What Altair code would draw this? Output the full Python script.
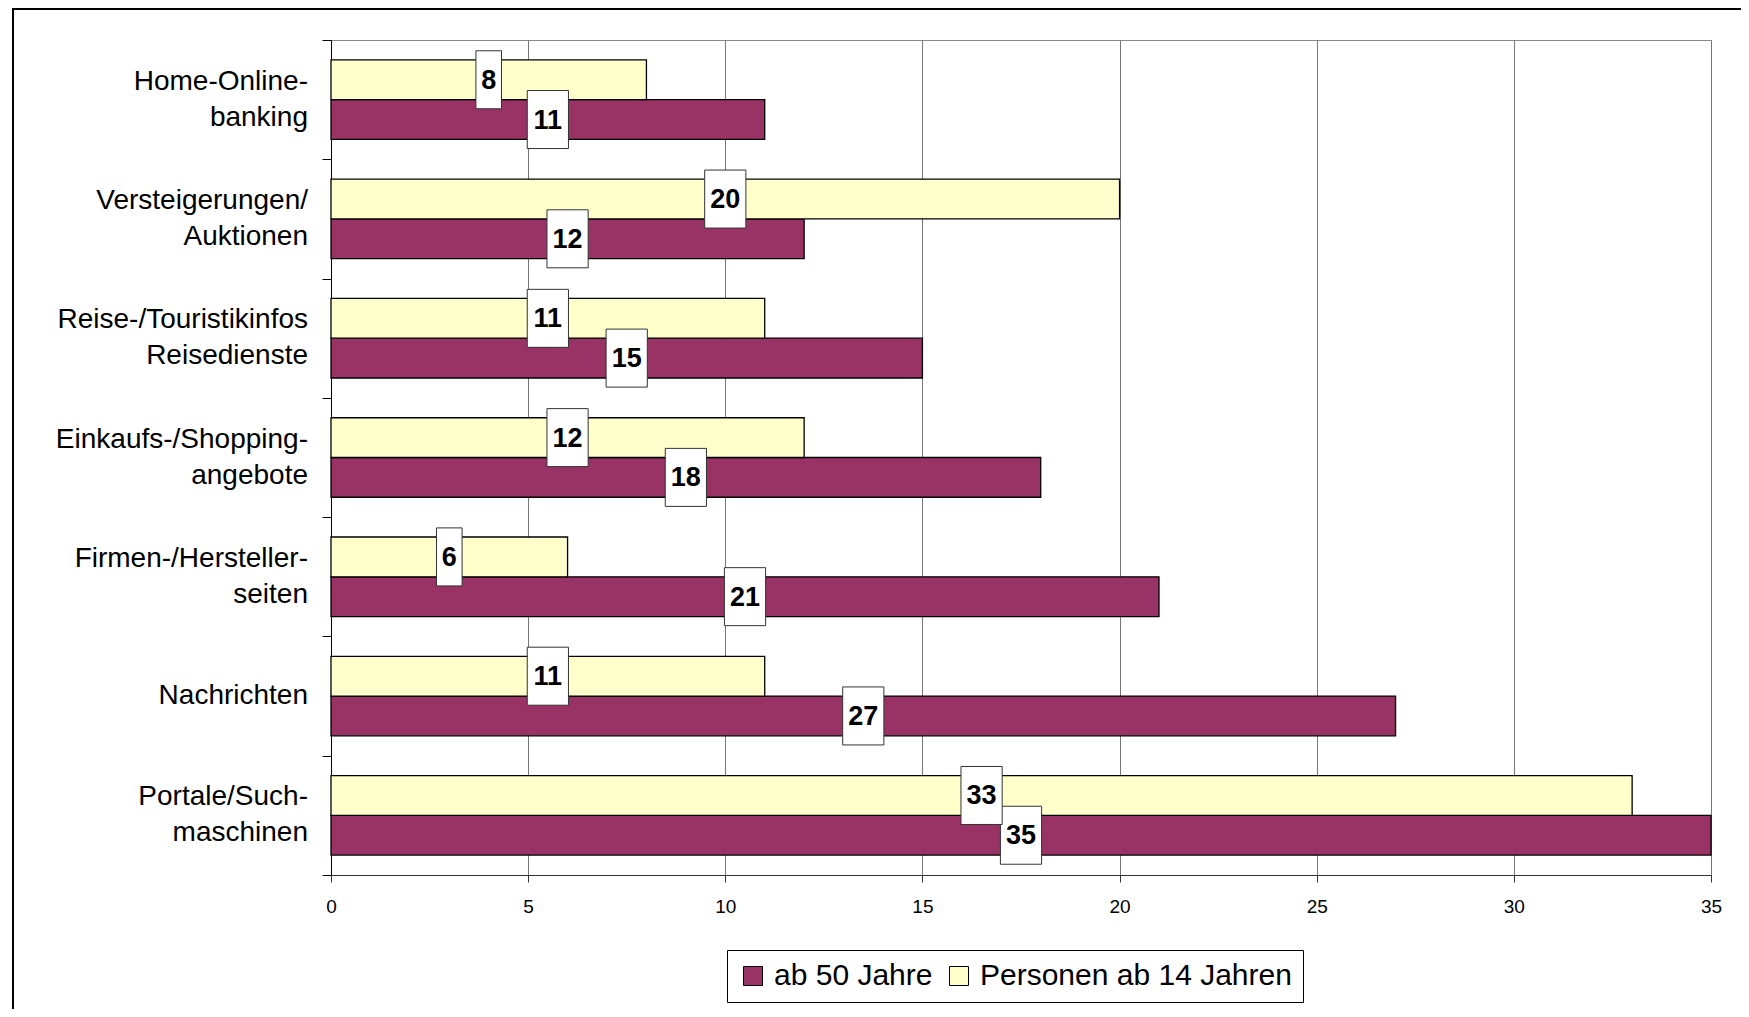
import altair as alt
import pandas as pd

categories = [
    "Home-Online-\nbanking",
    "Versteigerungen/\nAuktionen",
    "Reise-/Touristikinfos\nReisedienste",
    "Einkaufs-/Shopping-\nangebote",
    "Firmen-/Hersteller-\nseiten",
    "Nachrichten",
    "Portale/Such-\nmaschinen",
]
series_names = ["ab 50 Jahre", "Personen ab 14 Jahren"]
ab_50_jahre = [11, 12, 15, 18, 21, 27, 35]
ab_14_jahren = [8, 20, 11, 12, 6, 11, 33]
x_ticks = [0, 5, 10, 15, 20, 25, 30, 35]
colors = ["#993366", "#FFFFCC"]

rows = []
for c, a, p in zip(categories, ab_50_jahre, ab_14_jahren):
    rows.append({"cat": c, "series": series_names[0], "v": a})
    rows.append({"cat": c, "series": series_names[1], "v": p})
df = pd.DataFrame(rows)
cat_df = pd.DataFrame({"cat": categories})

W, H = 1380, 835
FONT = "Liberation Sans"
PX_PER_UNIT = W / 35.0


def y_enc():
    return alt.Y(
        "cat:N",
        sort=categories,
        title=None,
        scale=alt.Scale(paddingInner=0, paddingOuter=0),
        axis=alt.Axis(
            labels=False,
            tickSize=9,
            tickColor="black",
            tickBand="extent",
            domainColor="black",
            grid=False,
        ),
    )


def yoff_enc():
    return alt.YOffset(
        "series:N",
        sort=[series_names[1], series_names[0]],
        scale=alt.Scale(paddingOuter=0.5, paddingInner=0),
    )


def x_enc(field):
    return alt.X(
        field,
        title=None,
        scale=alt.Scale(domain=[0, 35], nice=False),
        axis=alt.Axis(
            values=x_ticks,
            labelFontSize=19,
            labelFont=FONT,
            labelColor="black",
            labelPadding=15,
            labelFlush=False,
            tickSize=7,
            tickColor="#333333",
            domainColor="#333333",
            grid=True,
            gridColor="#777777",
            gridWidth=1,
        ),
    )


frame = alt.Chart(pd.DataFrame({"d": [0]})).mark_rect(
    fill="white", fillOpacity=0, stroke="black", strokeWidth=2
).encode(
    x=alt.value(-318), x2=alt.value(1600), y=alt.value(-31), y2=alt.value(1200)
)

bars = alt.Chart(df).mark_bar(stroke="black", strokeWidth=1.3).encode(
    y=y_enc(),
    yOffset=yoff_enc(),
    x=x_enc("v:Q"),
    color=alt.Color(
        "series:N",
        scale=alt.Scale(domain=series_names, range=colors),
        legend=alt.Legend(
            title=None,
            orient="none",
            legendX=396,
            legendY=910,
            direction="horizontal",
            strokeColor="black",
            fillColor="white",
            padding=11,
            labelFontSize=30,
            labelFont=FONT,
            labelColor="black",
            symbolType="square",
            symbolSize=361,
            symbolStrokeColor="black",
            symbolStrokeWidth=1,
            columnPadding=11,
            labelOffset=6,
            labelLimit=500,
        ),
    ),
)

boxes = (
    alt.Chart(df)
    .transform_calculate(
        lo=f"datum.v/2 - (length(toString(datum.v))*15.6 + 10)/2/{PX_PER_UNIT}",
        hi=f"datum.v/2 + (length(toString(datum.v))*15.6 + 10)/2/{PX_PER_UNIT}",
    )
    .mark_bar(height=58, fill="white", stroke="#333333", strokeWidth=1)
    .encode(y=y_enc(), yOffset=yoff_enc(), x=x_enc("lo:Q"), x2="hi:Q")
)

texts = (
    alt.Chart(df)
    .transform_calculate(mid="datum.v/2")
    .mark_text(fontSize=27, fontWeight="bold", font=FONT, color="black",
               align="center", baseline="middle", dy=1)
    .encode(y=y_enc(), yOffset=yoff_enc(), x=x_enc("mid:Q"), text="v:Q")
)

cat_text_props = dict(align="right", baseline="middle", fontSize=28,
                      lineHeight=36, font=FONT, color="black")

cat_two = (
    alt.Chart(cat_df)
    .transform_calculate(lines="split(datum.cat, '\\n')")
    .transform_filter("length(datum.lines) > 1")
    .mark_text(dy=-18, **cat_text_props)
    .encode(y=y_enc(), x=alt.value(-23), text="lines:N")
)

cat_one = (
    alt.Chart(cat_df)
    .transform_calculate(lines="split(datum.cat, '\\n')")
    .transform_filter("length(datum.lines) == 1")
    .mark_text(**cat_text_props)
    .encode(y=y_enc(), x=alt.value(-23), text="cat:N")
)

chart = (
    alt.layer(frame, bars, boxes, texts, cat_two, cat_one)
    .properties(
        width=W,
        height=H,
        autosize=alt.AutoSizeParams(type="none"),
        padding={"left": 323, "top": 32, "right": 30, "bottom": 134},
        background="white",
    )
    .configure_view(stroke="#888888", strokeWidth=1)
)

chart.save("out.html", embed_options={"renderer": "svg", "actions": False})
